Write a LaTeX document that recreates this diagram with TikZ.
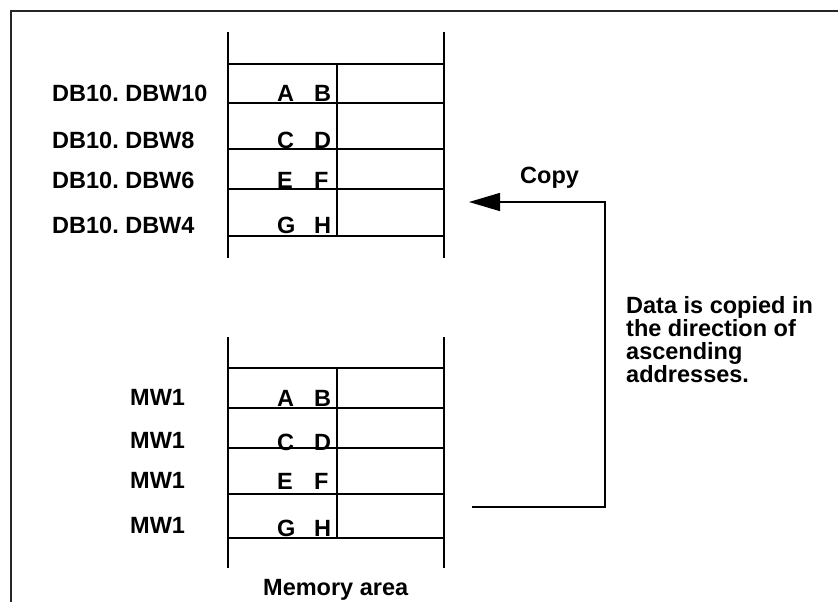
\documentclass[tikz,border=0pt]{standalone}
\usepackage{fontspec}
\setmainfont{Liberation Sans}
\usetikzlibrary{arrows.meta}
\begin{document}
\begin{tikzpicture}[x=1pt,y=-1pt,
  lbl/.style={font=\bfseries\fontsize{23.5}{22.7}\selectfont, inner sep=0pt, anchor=base west},
  hline/.style={line width=1.3pt},
  vline/.style={line width=2pt},
  frame/.style={line width=1.3pt, draw=black!85},
  arr/.style={line width=1.5pt, -{Triangle[length=31pt,width=18pt]}}]
\useasboundingbox (0,0) rectangle (838,602);
% frame
\draw[frame] (11,602) -- (11,11) -- (838,11);
% top table
\draw[vline] (228,32) -- (228,258);
\draw[vline] (444,32) -- (444,258);
\foreach \y in {64,103,149,189,236} \draw[hline] (228,\y) -- (444,\y);
\draw[hline] (337,64) -- (337,236);
% bottom table
\draw[vline] (228,337) -- (228,568);
\draw[vline] (444,337) -- (444,568);
\foreach \y in {368,408,448,494,538} \draw[hline] (228,\y) -- (444,\y);
\draw[hline] (337,368) -- (337,538);
% top labels
\node[lbl] (t1) at (52,101) {DB10.\ DBW10};
\node[lbl] (t2) at (52,148) {DB10.\ DBW8};
\node[lbl] (t3) at (52,188) {DB10.\ DBW6};
\node[lbl] (t4) at (52,233) {DB10.\ DBW4};
\node[lbl] (ta) at (277,101) {A};
\node[lbl] (tb) at (314,101) {B};
\node[lbl] (tc) at (277,148) {C};
\node[lbl] (td) at (314,148) {D};
\node[lbl] (te) at (277,188) {E};
\node[lbl] (tf) at (314,188) {F};
\node[lbl] (tg) at (277,233) {G};
\node[lbl] (th) at (314,233) {H};
% bottom labels
\node[lbl] (m1) at (130,405) {MW1};
\node[lbl] (m2) at (130,448) {MW1};
\node[lbl] (m3) at (130,488) {MW1};
\node[lbl] (m4) at (130,533) {MW1};
\node[lbl] (ba) at (277,406) {A};
\node[lbl] (bb) at (314,406) {B};
\node[lbl] (bc) at (277,450) {C};
\node[lbl] (bd) at (314,450) {D};
\node[lbl] (be) at (277,489) {E};
\node[lbl] (bf) at (314,489) {F};
\node[lbl] (bg) at (277,536) {G};
\node[lbl] (bh) at (314,536) {H};
\node[lbl] (mem) at (263,595) {Memory area};
% arrow
\coordinate (src) at (472,507);
\coordinate (c1) at (605,507);
\coordinate (c2) at (605,202);
\coordinate (dst) at (469,202);
\draw[arr] (src) -- (c1) -- (c2) -- (dst);
\node[lbl] (copy) at (520,183) {Copy};
\node[lbl, align=left] (note) at (626,382) {Data is copied in\\the direction of\\ascending\\addresses.};
\end{tikzpicture}
\end{document}
